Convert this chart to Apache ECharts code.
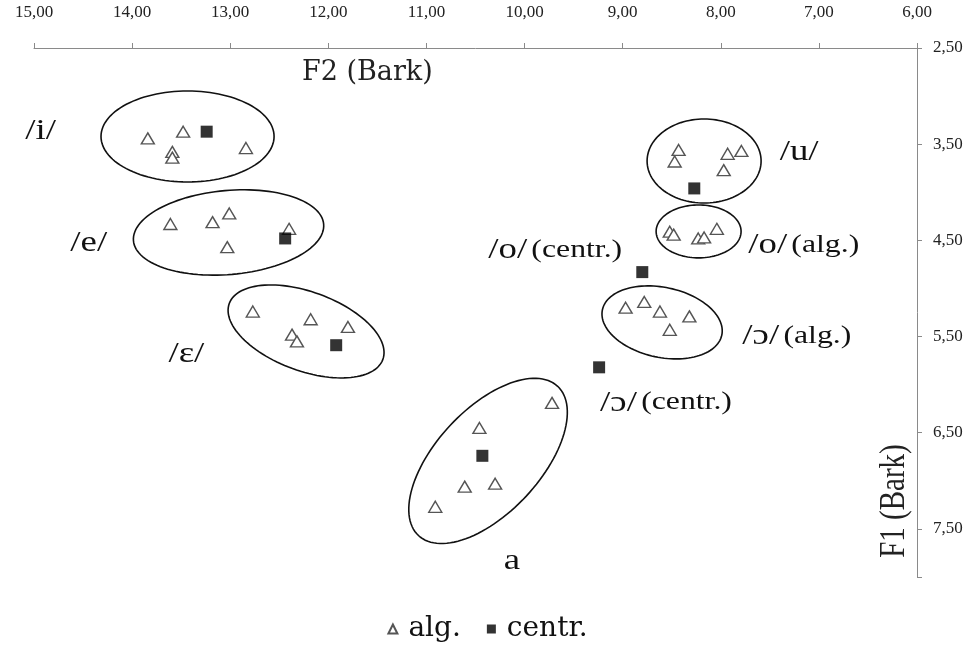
<!DOCTYPE html>
<html><head><meta charset="utf-8">
<script src="https://cdn.jsdelivr.net/npm/echarts@6/dist/echarts.min.js"></script>
<style>html,body{margin:0;padding:0;background:#fff;}#c{width:975px;height:649px;}</style>
</head><body><div id="c"></div>
<script>
// F2 (x), F1 (y) in Bark
const algF2 = [13.84,13.48,13.59,13.59,12.84, 13.61,13.18,13.01,13.03,12.40, 12.77,12.18,11.80,12.37,12.32, 9.72,10.46,10.61,10.30,10.91, 8.43,8.47,7.93,7.79,7.97, 8.52,8.48,8.23,8.17,8.04, 8.97,8.78,8.62,8.32,8.52];
const algF1 = [3.44,3.37,3.58,3.64,3.54, 4.33,4.31,4.22,4.57,4.38, 5.24,5.32,5.40,5.48,5.55, 6.19,6.45,7.06,7.03,7.27, 3.56,3.68,3.60,3.57,3.77, 4.41,4.44,4.48,4.47,4.38, 5.20,5.14,5.24,5.29,5.43];
const centrF2 = [13.24,12.44,11.92,10.43,8.27,8.80,9.24];
const centrF1 = [3.37,4.48,5.59,6.74,3.96,4.83,5.82];
// ellipses: centre F2, centre F1, semi-axis a (Bark), semi-axis b (Bark), tilt (deg)
const ellCx = [13.435,13.017,12.227,10.372,8.170,8.226,8.598];
const ellCy = [3.42,4.418,5.447,6.793,3.675,4.407,5.353];
const ellA  = [0.882,0.973,0.833,1.04,0.581,0.433,0.622];
const ellB  = [0.473,0.437,0.411,0.54,0.437,0.275,0.364];
const ellAng= [0,-5,20,-47,0,0,12];
// vowel labels
const lblText = ['/i/','/e/','/ɛ/','a','/u/','/o/ (alg.)','/o/ (centr.)','/ɔ/ (alg.)','/ɔ/ (centr.)'];
const lblF2 = [15.09,14.63,13.63,10.13,7.40,7.72,10.37,7.78,9.23];
const lblF1 = [3.37,4.53,5.69,7.84,3.59,4.55,4.60,5.50,6.19];
const lblAlign = ['left','left','left','center','left','left','left','left','left'];
const xMin = 6, xMax = 15, yMin = 2.5, yMax = 8.0, yStep = 1;

const fmt = v => v.toFixed(2).replace('.', ',');
const serif = '"Liberation Serif", "Times New Roman", serif';
const wide = '"DejaVu Serif", serif';
const STRETCH = 1.27;

const chart = echarts.init(document.getElementById('c'));
const ellData = ellCx.map((v,i)=>[v, ellCy[i], ellA[i], ellB[i], ellAng[i]]);
const lblData = lblText.map((t,i)=>[lblF2[i], lblF1[i], i]);

function richOf(t){
  const m = t.match(/^(\S+)\s(\(.*\))$/);
  if (m) return '{a|' + m[1] + '} {b|' + m[2] + '}';
  return '{a|' + t + '}';
}

chart.setOption({
  animation: false,
  grid: {left: 34, right: 58, top: 48, bottom: 72},
  xAxis: {
    type: 'value', position: 'top', inverse: true, min: xMin, max: xMax, interval: 1,
    axisLine: {show: true, onZero: false, lineStyle: {color: '#8a8a8a', width: 1}},
    axisTick: {show: true, inside: false, length: 5, lineStyle: {color: '#8a8a8a'}},
    splitLine: {show: false},
    axisLabel: {formatter: fmt, margin: 27, fontFamily: serif, fontSize: 17, color: '#222'}
  },
  yAxis: {
    type: 'value', position: 'right', inverse: true, min: yMin, max: yMax, interval: yStep,
    axisLine: {show: true, onZero: false, lineStyle: {color: '#8a8a8a', width: 1}},
    axisTick: {show: true, length: 5, lineStyle: {color: '#8a8a8a'}},
    splitLine: {show: false},
    axisLabel: {formatter: v => (Math.abs(v - yMax) < 1e-9 ? '' : fmt(v)), margin: 16, fontFamily: serif, fontSize: 17, color: '#222'}
  },
  legend: {
    bottom: 1, left: 'center', itemGap: 26, itemWidth: 9, itemHeight: 9,
    data: [{name: 'alg.', icon: 'triangle'}, {name: 'centr.', icon: 'rect'}],
    textStyle: {fontFamily: wide, fontSize: 28, color: '#111', padding: [0, 0, 0, 6]}
  },
  graphic: [
    {type: 'text', left: 302, top: 59, style: {text: 'F2 (Bark)', font: '27px "DejaVu Serif", serif', fill: '#222'}},
    {type: 'text', x: 894, y: 501, rotation: Math.PI/2, scaleY: STRETCH, style: {text: 'F1 (Bark)', font: '29px ' + serif, fill: '#222', align: 'center', verticalAlign: 'middle'}}
  ],
  series: [
    {
      type: 'custom', name: 'ellipses', silent: true, z: 1,
      renderItem: function(params, api){
        const c = api.coord([api.value(0), api.value(1)]);
        const sx = Math.abs(api.size([api.value(2), 0])[0]);
        const sy = Math.abs(api.size([0, api.value(3)])[1]);
        const ang = api.value(4) * Math.PI / 180;
        const pts = [];
        for (let k = 0; k < 120; k++) {
          const t = k / 120 * Math.PI * 2;
          const ex = sx * Math.cos(t), ey = sy * Math.sin(t);
          pts.push([c[0] + ex*Math.cos(ang) - ey*Math.sin(ang), c[1] + ex*Math.sin(ang) + ey*Math.cos(ang)]);
        }
        return {type: 'polygon', shape: {points: pts}, style: {fill: 'none', stroke: '#111', lineWidth: 1.6}};
      },
      data: ellData
    },
    {
      type: 'scatter', name: 'alg.', symbol: 'triangle', symbolSize: [13, 11], z: 3,
      itemStyle: {color: '#fff', borderColor: '#555', borderWidth: 1.4, opacity: 1},
      data: algF2.map((v,i)=>[v, algF1[i]])
    },
    {
      type: 'scatter', name: 'centr.', symbol: 'rect', symbolSize: 12, z: 4,
      itemStyle: {color: '#000'},
      data: centrF2.map((v,i)=>[v, centrF1[i]])
    },
    {
      type: 'custom', name: 'labels', silent: true, z: 5,
      renderItem: function(params, api){
        const c = api.coord([api.value(0), api.value(1)]);
        const i = api.value(2);
        return {type: 'text', x: c[0], y: c[1], scaleX: STRETCH, style: {
          text: richOf(lblText[i]), align: lblAlign[i], verticalAlign: 'middle',
          rich: {a: {fontFamily: serif, fontSize: 29, fill: '#111'}, b: {fontFamily: serif, fontSize: 25, fill: '#111'}}
        }};
      },
      data: lblData
    }
  ]
});
</script>
</body></html>
